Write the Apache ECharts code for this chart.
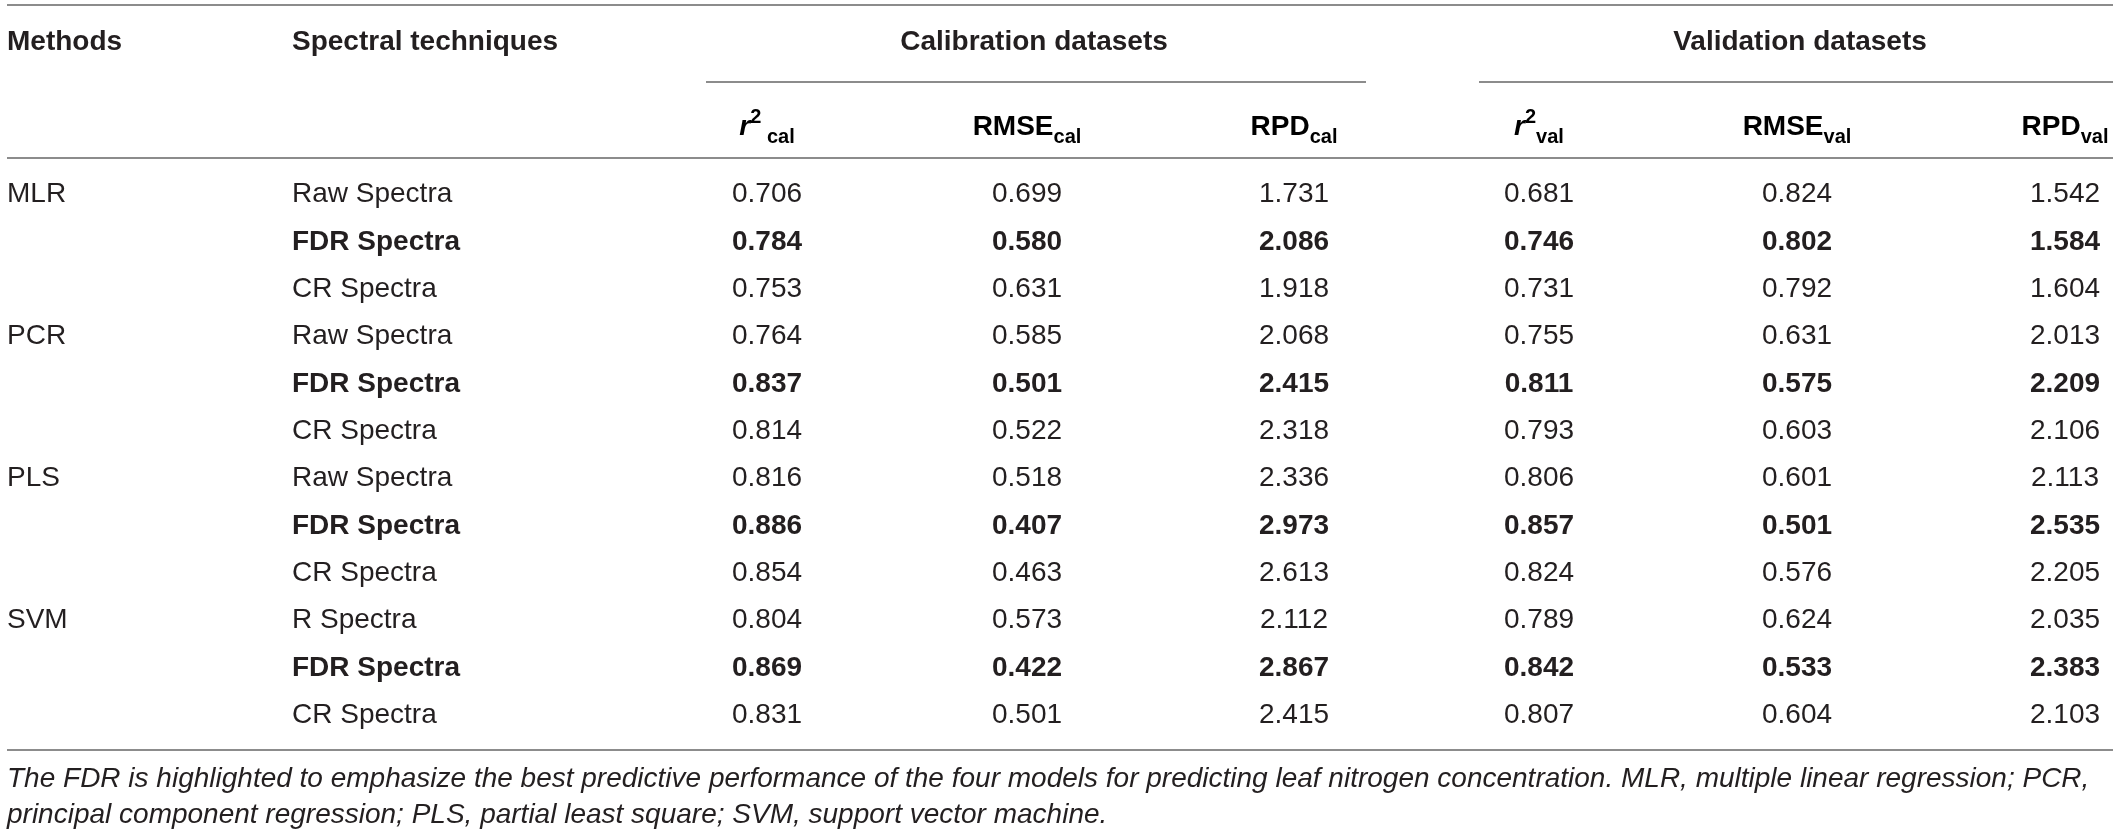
<!DOCTYPE html>
<html>
<head>
<meta charset="utf-8">
<script src="https://cdn.jsdelivr.net/npm/echarts@6/dist/echarts.min.js"></script>
<style>
  html, body { margin: 0; padding: 0; background: #fff; }
  #table { width: 2119px; height: 836px; }
</style>
</head>
<body>
<div id="table"></div>
<script>
// table values
var methods = ['MLR', 'PCR', 'PLS', 'SVM'];
var techniques = [
    ['Raw Spectra', 'FDR Spectra', 'CR Spectra'],
    ['Raw Spectra', 'FDR Spectra', 'CR Spectra'],
    ['Raw Spectra', 'FDR Spectra', 'CR Spectra'],
    ['R Spectra', 'FDR Spectra', 'CR Spectra']
];
var r2Cal   = [0.706, 0.784, 0.753, 0.764, 0.837, 0.814, 0.816, 0.886, 0.854, 0.804, 0.869, 0.831];
var rmseCal = [0.699, 0.580, 0.631, 0.585, 0.501, 0.522, 0.518, 0.407, 0.463, 0.573, 0.422, 0.501];
var rpdCal  = [1.731, 2.086, 1.918, 2.068, 2.415, 2.318, 2.336, 2.973, 2.613, 2.112, 2.867, 2.415];
var r2Val   = [0.681, 0.746, 0.731, 0.755, 0.811, 0.793, 0.806, 0.857, 0.824, 0.789, 0.842, 0.807];
var rmseVal = [0.824, 0.802, 0.792, 0.631, 0.575, 0.603, 0.601, 0.501, 0.576, 0.624, 0.533, 0.604];
var rpdVal  = [1.542, 1.584, 1.604, 2.013, 2.209, 2.106, 2.113, 2.535, 2.205, 2.035, 2.383, 2.103];
var highlighted = 'FDR Spectra';
var footnote = [
    'The FDR is highlighted to emphasize the best predictive performance of the four models for predicting leaf nitrogen concentration. MLR, multiple linear regression; PCR,',
    'principal component regression; PLS, partial least square; SVM, support vector machine.'
];

// layout
var FONT = "'Helvetica Neue', Helvetica, 'Liberation Sans', Arial, sans-serif";
var INK = '#231f20';
var RULE = '#8c8c8c';
var W = 2119;
var colX = { method: 7, technique: 292 };
var numCols = [
    { key: 'r2Cal', x: 767, values: r2Cal },
    { key: 'rmseCal', x: 1027, values: rmseCal },
    { key: 'rpdCal', x: 1294, values: rpdCal },
    { key: 'r2Val', x: 1539, values: r2Val },
    { key: 'rmseVal', x: 1797, values: rmseVal },
    { key: 'rpdVal', x: 2065, values: rpdVal }
];

// flatten into rows: method shown on first row of its group
var rows = [];
methods.forEach(function (m, gi) {
    techniques[gi].forEach(function (t, ti) {
        rows.push({ method: ti === 0 ? m : '', technique: t });
    });
});

var chart = echarts.init(document.getElementById('table'));

// footnote size fitted to the table width
function fitFont(text, width, style) {
    var ctx = document.createElement('canvas').getContext('2d');
    ctx.font = style + ' 28px ' + FONT;
    return Math.min(28, 28 * width / ctx.measureText(text).width);
}
var noteSize = fitFont(footnote[0], 2104, 'italic');

var headRich = {
    b: { fontSize: 28, fontWeight: 'bold', fontFamily: FONT, color: INK, lineHeight: 40 },
    i: { fontSize: 28, fontWeight: 'bold', fontStyle: 'italic', fontFamily: FONT, color: INK, lineHeight: 40 },
    p: { fontSize: 20, fontWeight: 'bold', fontFamily: FONT, color: INK, lineHeight: 30, verticalAlign: 'top' },
    s: { fontSize: 20, fontWeight: 'bold', fontFamily: FONT, color: INK, lineHeight: 24, verticalAlign: 'bottom' }
};
var subHeads = ['{i|r}{p|2}{s| cal}', '{b|RMSE}{s|cal}', '{b|RPD}{s|cal}',
                '{i|r}{p|2}{s|val}', '{b|RMSE}{s|val}', '{b|RPD}{s|val}'];

function hText(x, y, text, align) {
    return {
        type: 'text', x: x, y: y, silent: true,
        style: { text: text, fill: INK, fontSize: 28, fontWeight: 'bold', fontFamily: FONT,
                 align: align, verticalAlign: 'middle' }
    };
}
function hLine(x1, x2, y) {
    return { type: 'line', silent: true, shape: { x1: x1, y1: y, x2: x2, y2: y },
             style: { stroke: RULE, lineWidth: 2 } };
}

var graphics = [
    hLine(7, 2113, 5),
    hLine(706, 1366, 82),
    hLine(1479, 2113, 82),
    hLine(7, 2113, 158),
    hLine(7, 2113, 750),
    hText(colX.method, 42, 'Methods', 'left'),
    hText(colX.technique, 42, 'Spectral techniques', 'left'),
    hText(1034, 42, 'Calibration datasets', 'center'),
    hText(1800, 42, 'Validation datasets', 'center')
];
subHeads.forEach(function (t, k) {
    graphics.push({
        type: 'text', x: numCols[k].x, y: 127, silent: true,
        style: { text: t, rich: headRich, align: 'center', verticalAlign: 'middle' }
    });
});
footnote.forEach(function (line, k) {
    graphics.push({
        type: 'text', x: 7, y: 779 + k * 36, silent: true,
        style: { text: line, fill: INK, fontSize: noteSize, fontStyle: 'italic', fontFamily: FONT,
                 align: 'left', verticalAlign: 'middle' }
    });
});

var option = {
    backgroundColor: '#fff',
    animation: false,
    grid: { left: 0, right: 0, top: 171, bottom: 97 },
    xAxis: { type: 'value', min: 0, max: W, show: false },
    yAxis: { type: 'category', data: rows.map(function (r, i) { return String(i); }),
             inverse: true, show: false },
    graphic: graphics,
    series: [{
        type: 'custom',
        encode: { x: 0, y: 1 },
        data: rows.map(function (r, i) { return [0, i]; }),
        renderItem: function (params, api) {
            var idx = api.value(1);
            var row = rows[idx];
            var bold = row.technique === highlighted;
            var y = api.coord([0, idx])[1];
            function cell(x, text, align, isBold) {
                return {
                    type: 'text',
                    style: { text: text, x: api.coord([x, idx])[0], y: y, fill: INK,
                             fontSize: 28, fontWeight: isBold ? 'bold' : 'normal', fontFamily: FONT,
                             align: align, verticalAlign: 'middle' }
                };
            }
            var kids = [];
            if (row.method) kids.push(cell(colX.method, row.method, 'left', false));
            kids.push(cell(colX.technique, row.technique, 'left', bold));
            numCols.forEach(function (c) {
                kids.push(cell(c.x, c.values[idx].toFixed(3), 'center', bold));
            });
            return { type: 'group', children: kids };
        }
    }]
};
chart.setOption(option);
</script>
</body>
</html>
